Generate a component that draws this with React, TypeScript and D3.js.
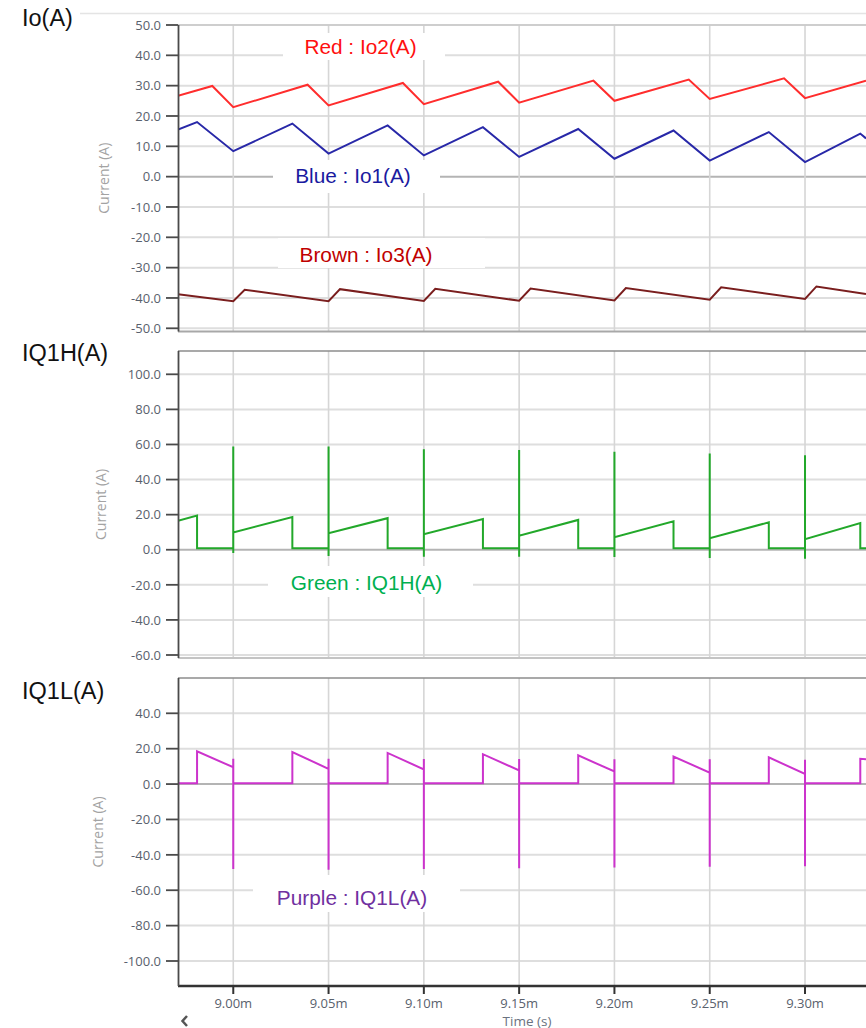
import React from "react";
import * as d3 from "d3";

// ---- Data (time in ms, current in A) ----
const timeTicks = [9.0, 9.05, 9.1, 9.15, 9.2, 9.25, 9.3];
const ioTicks = [50, 40, 30, 20, 10, 0, -10, -20, -30, -40, -50];
const iq1hTicks = [100, 80, 60, 40, 20, 0, -20, -40, -60];
const iq1lTicks = [40, 20, 0, -20, -40, -60, -80, -100];

const io2T = [8.971, 8.989, 9.0, 9.039, 9.05, 9.089, 9.1, 9.139, 9.15, 9.189, 9.2, 9.239, 9.25, 9.289, 9.3, 9.332];
const io2V = [26.7, 29.9, 22.9, 30.3, 23.5, 30.9, 23.9, 31.3, 24.4, 31.65, 25.0, 32.0, 25.6, 32.4, 25.9, 31.6];

const io1T = [8.971, 8.981, 9.0, 9.031, 9.05, 9.081, 9.1, 9.131, 9.15, 9.181, 9.2, 9.231, 9.25, 9.281, 9.3, 9.329, 9.332];
const io1V = [15.5, 18.0, 8.4, 17.5, 7.6, 16.9, 7.0, 16.3, 6.5, 15.7, 5.9, 15.2, 5.3, 14.7, 4.8, 14.2, 12.6];

const io3T = [8.971, 9.0, 9.006, 9.05, 9.056, 9.1, 9.106, 9.15, 9.156, 9.2, 9.206, 9.25, 9.256, 9.3, 9.306, 9.332];
const io3V = [-38.8, -41.1, -37.3, -41.1, -37.1, -41.0, -37.0, -40.9, -36.9, -40.8, -36.7, -40.6, -36.5, -40.3, -36.2, -38.7];

const iq1hT = [
  8.971, 8.981, 8.981,
  9.0, 9.0, 9.0, 9.0, 9.031, 9.031,
  9.05, 9.05, 9.05, 9.05, 9.081, 9.081,
  9.1, 9.1, 9.1, 9.1, 9.131, 9.131,
  9.15, 9.15, 9.15, 9.15, 9.181, 9.181,
  9.2, 9.2, 9.2, 9.2, 9.231, 9.231,
  9.25, 9.25, 9.25, 9.25, 9.281, 9.281,
  9.3, 9.3, 9.3, 9.3, 9.329, 9.329, 9.332,
];
const iq1hV = [
  16.5, 19.5, 0.8,
  0.8, -1.9, 58.8, 9.9, 18.6, 0.8,
  0.8, -3.5, 58.8, 9.4, 18.0, 0.8,
  0.8, -4.0, 57.3, 8.8, 17.5, 0.8,
  0.8, -4.0, 56.9, 8.0, 17.0, 0.8,
  0.8, -4.2, 55.9, 7.2, 16.2, 0.8,
  0.8, -4.7, 54.8, 6.6, 15.6, 0.8,
  0.8, -5.1, 53.8, 6.0, 15.2, 0.8, 0.8,
];

const iq1lT = [
  8.971, 8.981, 8.981,
  9.0, 9.0, 9.0, 9.0, 9.031, 9.031,
  9.05, 9.05, 9.05, 9.05, 9.081, 9.081,
  9.1, 9.1, 9.1, 9.1, 9.131, 9.131,
  9.15, 9.15, 9.15, 9.15, 9.181, 9.181,
  9.2, 9.2, 9.2, 9.2, 9.231, 9.231,
  9.25, 9.25, 9.25, 9.25, 9.281, 9.281,
  9.3, 9.3, 9.3, 9.3, 9.329, 9.329, 9.332,
];
const iq1lV = [
  0.5, 0.5, 18.5,
  9.5, 14.3, -48.0, 0.5, 0.5, 18.1,
  8.6, 14.3, -48.4, 0.5, 0.5, 17.6,
  8.3, 14.2, -48.0, 0.5, 0.5, 16.9,
  7.7, 14.2, -47.6, 0.5, 0.5, 16.2,
  7.1, 14.1, -47.2, 0.5, 0.5, 15.6,
  6.4, 14.1, -46.8, 0.5, 0.5, 15.1,
  5.7, 13.8, -46.4, 0.5, 0.5, 14.3, 14.0,
];

const zip = (t: number[], v: number[]): [number, number][] => t.map((d, i) => [d, v[i]]);

const W = 866;
const H = 1028;
const X0 = 178;
const xScale = d3.scaleLinear().domain([8.971, 9.332]).range([X0, W]);

const TICK_FONT = "'Open Sans', sans-serif";
const LABEL_FONT = "'Liberation Sans', Arial, sans-serif";

type Series = { data: [number, number][]; color: string };
type Label = { text: string; color: string; cx: number; base: number; box: [number, number, number, number] };
type Panel = {
  title: string;
  titleBase: number;
  top: number;
  bottom: number;
  bottomColor: string;
  topColor: string;
  domain: [number, number];
  range: [number, number];
  ticks: number[];
  series: Series[];
  labels: Label[];
  yTitleX: number;
};

const panels: Panel[] = [
  {
    title: "Io(A)",
    titleBase: 26,
    top: 25,
    bottom: 331.5,
    topColor: "#c8c8c8",
    bottomColor: "#a8a8a8",
    domain: [-50, 50],
    range: [328.3, 25],
    ticks: ioTicks,
    yTitleX: 104,
    series: [
      { data: zip(io2T, io2V), color: "#ff2d2d" },
      { data: zip(io1T, io1V), color: "#2828a8" },
      { data: zip(io3T, io3V), color: "#7a1e1e" },
    ],
    labels: [
      { text: "Red : Io2(A)", color: "#ff0f0f", cx: 360.5, base: 53.5, box: [283, 33, 162, 27] },
      { text: "Blue : Io1(A)", color: "#1a1aa0", cx: 353, base: 183, box: [273, 160, 167, 33] },
      { text: "Brown : Io3(A)", color: "#c00000", cx: 366, base: 262, box: [278, 238, 207, 30] },
    ],
  },
  {
    title: "IQ1H(A)",
    titleBase: 361,
    top: 351,
    bottom: 658,
    topColor: "#8c8c8c",
    bottomColor: "#c4c4c4",
    domain: [-60, 100],
    range: [655, 374.3],
    ticks: iq1hTicks,
    yTitleX: 101,
    series: [{ data: zip(iq1hT, iq1hV), color: "#22a82a" }],
    labels: [{ text: "Green : IQ1H(A)", color: "#00b050", cx: 366.5, base: 589.5, box: [268, 566, 205, 31] }],
  },
  {
    title: "IQ1L(A)",
    titleBase: 699,
    top: 678,
    bottom: 986,
    topColor: "#8c8c8c",
    bottomColor: "#333",
    domain: [-100, 40],
    range: [961, 713.3],
    ticks: iq1lTicks,
    yTitleX: 98,
    series: [{ data: zip(iq1lT, iq1lV), color: "#cc33cc" }],
    labels: [{ text: "Purple : IQ1L(A)", color: "#7030a0", cx: 352, base: 904.5, box: [253, 875, 207, 37] }],
  },
];

function PanelView({ p, idx }: { p: Panel; idx: number }) {
  const y = d3.scaleLinear().domain(p.domain).range(p.range);
  const line = d3
    .line<[number, number]>()
    .x((d) => xScale(d[0]))
    .y((d) => y(d[1]));
  const clipId = `clip${idx}`;
  return (
    <g>
      <defs>
        <clipPath id={clipId}>
          <rect x={X0} y={p.top - 2} width={W - X0} height={p.bottom - p.top + 4} />
        </clipPath>
      </defs>
      {p.ticks.map((t) => (
        <line
          key={"h" + t}
          x1={X0}
          x2={W}
          y1={y(t)}
          y2={y(t)}
          stroke={t === 0 ? "#b4b4b4" : "#dedede"}
          strokeWidth={2}
        />
      ))}
      {timeTicks.map((t) => (
        <line key={"v" + t} x1={xScale(t)} x2={xScale(t)} y1={p.top} y2={p.bottom} stroke="#d6d6d6" strokeWidth={1.6} />
      ))}
      <line x1={X0} x2={W} y1={p.top} y2={p.top} stroke={p.topColor} strokeWidth={1.6} />
      {p.labels.map((l) => (
        <rect key={"b" + l.text} x={l.box[0]} y={l.box[1]} width={l.box[2]} height={l.box[3]} fill="#fff" />
      ))}
      <g clipPath={`url(#${clipId})`}>
        {p.series.map((s, i) => (
          <path key={i} d={line(s.data) || ""} fill="none" stroke={s.color} strokeWidth={2} strokeLinejoin="miter" />
        ))}
      </g>
      {p.labels.map((l) => (
        <text key={l.text} x={l.cx} y={l.base} fill={l.color} fontFamily={LABEL_FONT} fontSize={20.8} textAnchor="middle">
          {l.text}
        </text>
      ))}
      <line
        x1={X0}
        x2={W}
        y1={p.bottom}
        y2={p.bottom}
        stroke={p.bottomColor}
        strokeWidth={idx === 2 ? 2.5 : 2}
      />
      <line x1={X0 + 0.5} x2={X0 + 0.5} y1={p.top} y2={p.bottom} stroke="#4a4a4a" strokeWidth={1.8} />
      {p.ticks.map((t) => (
        <g key={"t" + t}>
          <line x1={166} x2={X0} y1={y(t)} y2={y(t)} stroke="#4a4a4a" strokeWidth={1.8} />
          <text
            x={161}
            y={y(t)}
            dy="0.36em"
            textAnchor="end"
            fontFamily={TICK_FONT}
            fontSize={13}
            fill="#59616d"
          >
            {t.toFixed(1)}
          </text>
        </g>
      ))}
      <text
        transform={`translate(${p.yTitleX},${(p.top + p.bottom) / 2}) rotate(-90)`}
        dy="0.35em"
        textAnchor="middle"
        fontFamily={TICK_FONT}
        fontSize={14}
        fill="#a3a3a3"
      >
        Current (A)
      </text>
      <text x={22} y={p.titleBase} fontFamily={LABEL_FONT} fontSize={23.5} fill="#111">
        {p.title}
      </text>
    </g>
  );
}

export default function App() {
  return (
    <div style={{ position: "absolute", left: 0, top: 0 }}>
      <svg width={W} height={H} viewBox={`0 0 ${W} ${H}`} style={{ display: "block", background: "#fff" }}>
        <rect x={0} y={0} width={W} height={H} fill="#fff" />
        <line x1={80} x2={W} y1={13.5} y2={13.5} stroke="#e4e4e4" strokeWidth={1.5} />
        {panels.map((p, i) => (
          <PanelView key={p.title} p={p} idx={i} />
        ))}
        {timeTicks.map((t) => (
          <g key={"x" + t}>
            <line x1={xScale(t)} x2={xScale(t)} y1={986} y2={994} stroke="#333" strokeWidth={2} />
            <text
              x={xScale(t)}
              y={1008}
              textAnchor="middle"
              fontFamily={TICK_FONT}
              fontSize={13}
              fill="#59616d"
            >
              {t.toFixed(2) + "m"}
            </text>
          </g>
        ))}
        <text x={527} y={1025.5} textAnchor="middle" fontFamily={TICK_FONT} fontSize={13.5} fill="#6a7280">
          Time (s)
        </text>
        <path d="M187,1016 L182.5,1021 L187,1026" fill="none" stroke="#555" strokeWidth={2.5} />
      </svg>
    </div>
  );
}
